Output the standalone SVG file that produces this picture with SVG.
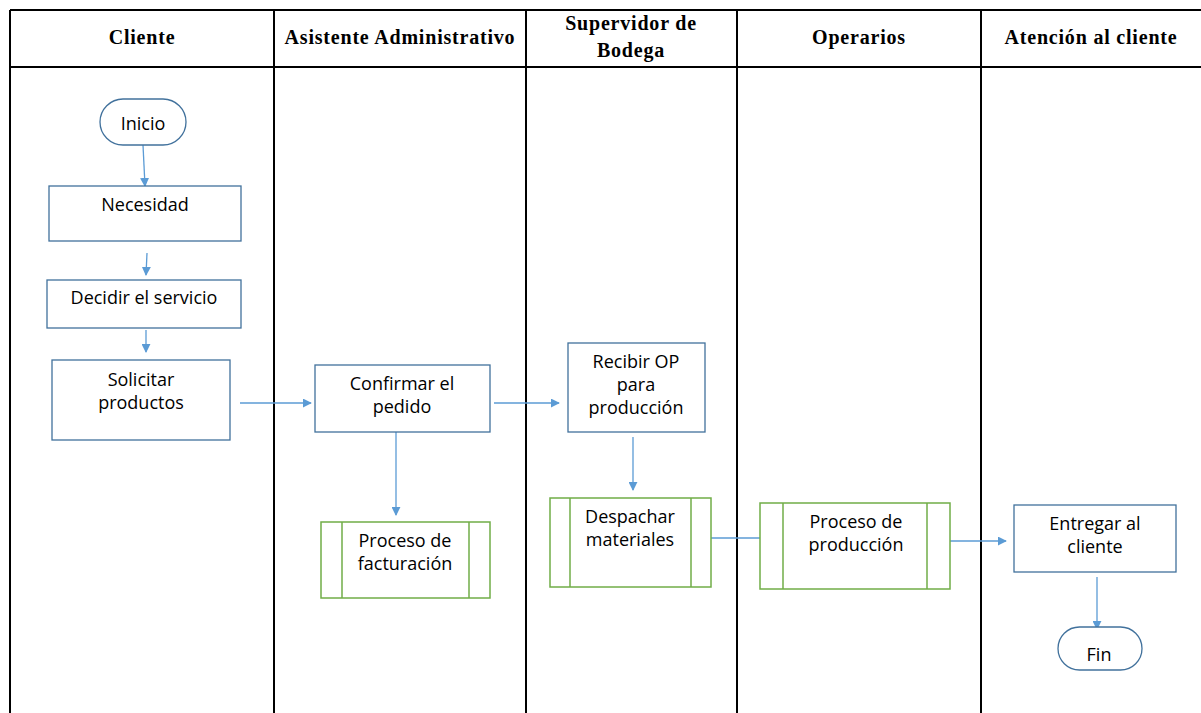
<svg xmlns="http://www.w3.org/2000/svg" width="1201" height="713" viewBox="0 0 1201 713">
  <defs>
    <marker id="arrow" viewBox="0 0 10 10" refX="9" refY="5" markerWidth="9" markerHeight="9" markerUnits="userSpaceOnUse" orient="auto">
      <path d="M0,0 L10,5 L0,10 z" fill="#5B9BD5"/>
    </marker>
    <style>
      .lane { stroke: #000; stroke-width: 2; fill: none; }
      .head { font-family: "Liberation Serif", "Times New Roman", serif; font-weight: bold; font-size: 20px; letter-spacing: 0.8px; fill: #000; text-anchor: middle; }
      .box { fill: #fff; stroke: #41719C; stroke-width: 1.3; }
      .sub { fill: #fff; stroke: #70AD47; stroke-width: 1.5; }
      .subline { stroke: #70AD47; stroke-width: 1.5; }
      .lbl { font-family: "Open Sans", "Liberation Sans", Arial, sans-serif; font-size: 18px; fill: #000; text-anchor: middle; }
      .conn { stroke: #5B9BD5; stroke-width: 1.3; fill: none; }
    </style>
  </defs>

  <rect width="1201" height="713" fill="#fff"/>

  <!-- swimlane grid -->
  <g id="lanes">
    <line class="lane" x1="10" y1="10" x2="1201" y2="10"/>
    <line class="lane" x1="10" y1="67" x2="1201" y2="67"/>
    <line class="lane" x1="10" y1="10" x2="10" y2="713"/>
    <line class="lane" x1="274" y1="10" x2="274" y2="713"/>
    <line class="lane" x1="526" y1="10" x2="526" y2="713"/>
    <line class="lane" x1="737" y1="10" x2="737" y2="713"/>
    <line class="lane" x1="981" y1="10" x2="981" y2="713"/>
    <text class="head" x="142" y="44">Cliente</text>
    <text class="head" x="400" y="44">Asistente Administrativo</text>
    <text class="head" x="631" y="30">Supervidor de</text>
    <text class="head" x="631" y="57">Bodega</text>
    <text class="head" x="859" y="44">Operarios</text>
    <text class="head" x="1091" y="44">Atención al cliente</text>
  </g>

  <!-- connectors -->
  <g id="connectors">
    <line class="conn" x1="143" y1="145" x2="145" y2="186" marker-end="url(#arrow)"/>
    <line class="conn" x1="147" y1="253" x2="146" y2="275" marker-end="url(#arrow)"/>
    <line class="conn" x1="146" y1="330" x2="146" y2="352" marker-end="url(#arrow)"/>
    <line class="conn" x1="240" y1="403" x2="311" y2="403" marker-end="url(#arrow)"/>
    <line class="conn" x1="494" y1="403" x2="559" y2="403" marker-end="url(#arrow)"/>
    <line class="conn" x1="396" y1="432" x2="396" y2="515" marker-end="url(#arrow)"/>
    <line class="conn" x1="633" y1="437" x2="633" y2="490" marker-end="url(#arrow)"/>
    <line class="conn" x1="711" y1="538" x2="760" y2="538"/>
    <line class="conn" x1="950" y1="541" x2="1006" y2="541" marker-end="url(#arrow)"/>
    <line class="conn" x1="1097" y1="577" x2="1097" y2="629" marker-end="url(#arrow)"/>
  </g>

  <g id="inicio">
    <rect class="box" x="100" y="99" width="86" height="46" rx="23"/>
    <text class="lbl" x="143" y="130">Inicio</text>
  </g>

  <g id="necesidad">
    <rect class="box" x="49" y="186" width="192" height="55"/>
    <text class="lbl" x="145" y="211">Necesidad</text>
  </g>

  <g id="decidir">
    <rect class="box" x="47" y="280" width="194" height="48"/>
    <text class="lbl" x="144" y="304">Decidir el servicio</text>
  </g>

  <g id="solicitar">
    <rect class="box" x="52" y="360" width="178" height="80"/>
    <text class="lbl" x="141" y="386">Solicitar</text>
    <text class="lbl" x="141" y="409">productos</text>
  </g>

  <g id="confirmar">
    <rect class="box" x="315" y="365" width="175" height="67"/>
    <text class="lbl" x="402" y="390">Confirmar el</text>
    <text class="lbl" x="402" y="413">pedido</text>
  </g>

  <g id="facturacion">
    <rect class="sub" x="321" y="522" width="169" height="76"/>
    <line class="subline" x1="342" y1="522" x2="342" y2="598"/>
    <line class="subline" x1="469" y1="522" x2="469" y2="598"/>
    <text class="lbl" x="405" y="547">Proceso de</text>
    <text class="lbl" x="405" y="570">facturación</text>
  </g>

  <g id="recibir">
    <rect class="box" x="568" y="343" width="137" height="89"/>
    <text class="lbl" x="636" y="368">Recibir OP</text>
    <text class="lbl" x="636" y="391">para</text>
    <text class="lbl" x="636" y="414">producción</text>
  </g>

  <g id="despachar">
    <rect class="sub" x="550" y="498" width="161" height="89"/>
    <line class="subline" x1="570" y1="498" x2="570" y2="587"/>
    <line class="subline" x1="691" y1="498" x2="691" y2="587"/>
    <text class="lbl" x="630" y="523">Despachar</text>
    <text class="lbl" x="630" y="546">materiales</text>
  </g>

  <g id="produccion">
    <rect class="sub" x="760" y="503" width="190" height="86"/>
    <line class="subline" x1="783" y1="503" x2="783" y2="589"/>
    <line class="subline" x1="927" y1="503" x2="927" y2="589"/>
    <text class="lbl" x="856" y="528">Proceso de</text>
    <text class="lbl" x="856" y="551">producción</text>
  </g>

  <g id="entregar">
    <rect class="box" x="1014" y="505" width="162" height="67"/>
    <text class="lbl" x="1095" y="530">Entregar al</text>
    <text class="lbl" x="1095" y="553">cliente</text>
  </g>

  <g id="fin">
    <rect class="box" x="1058" y="627" width="84" height="43" rx="21.5"/>
    <text class="lbl" x="1099" y="661">Fin</text>
  </g>
</svg>
